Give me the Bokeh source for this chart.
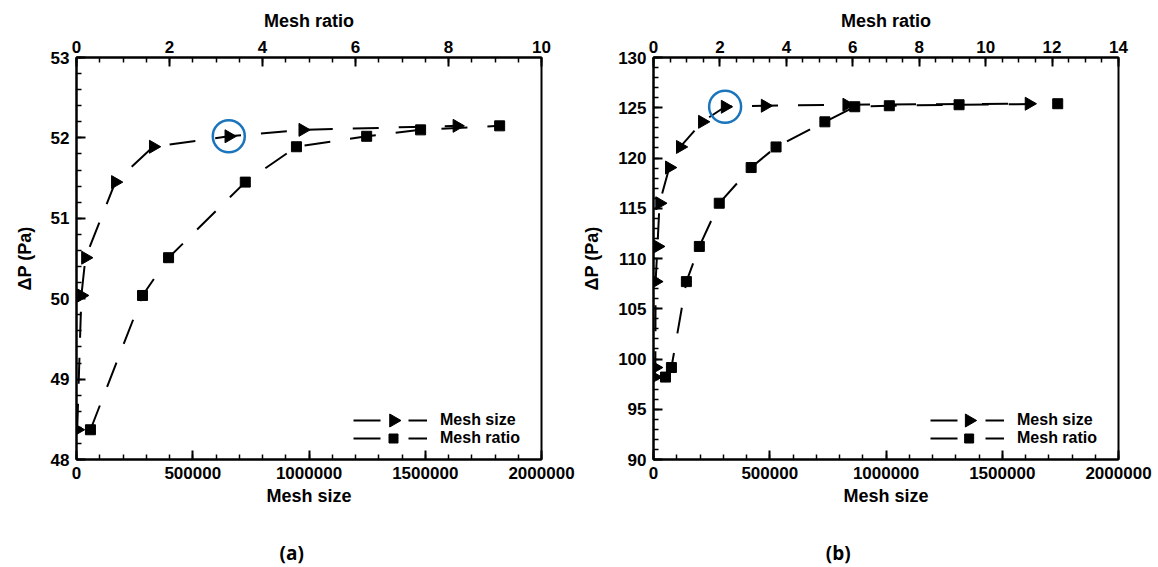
import math
from bokeh.plotting import figure
from bokeh.layouts import row, column
from bokeh.models import (Range1d, LinearAxis, Legend, LegendItem,
                          FixedTicker, SingleIntervalTicker, BasicTickFormatter)
from bokeh.core.properties import value
from bokeh.embed import file_html
from bokeh.resources import INLINE

# ---- panel (a) ----
size_a = [3000, 21000, 38500, 167000, 330000, 655000, 973000, 1636000]
ratio_a = [0.30, 1.42, 1.98, 3.63, 4.73, 6.24, 7.40, 9.10]
dp_a = [48.37, 50.04, 50.51, 51.45, 51.89, 52.02, 52.10, 52.15]
pick_a = 5  # selected mesh

# ---- panel (b) ----
size_b = [4000, 8000, 9000, 17000, 26000, 68000, 115000, 210000, 308000, 480000, 831000, 1615000]
ratio_b = [0.36, 0.54, 0.99, 1.38, 1.98, 2.94, 3.69, 5.16, 6.06, 7.10, 9.20, 12.17]
dp_b = [98.2, 99.15, 107.7, 111.2, 115.5, 119.05, 121.1, 123.6, 125.1, 125.2, 125.3, 125.4]
pick_b = 8

size_ticks = [0, 500000, 1000000, 1500000, 2000000]
size_minor = [i * 100000 for i in range(21)]

FONT = "Liberation Sans"
DASH = "26 20"
LEGEND_DASH = "27 28"
FIG_W, FIG_H = 579, 530
TAG_H = 37
BORDER_TOP, BORDER_BOTTOM = 57, 71


def style_axis(ax, tick_size="17px"):
    ax.axis_line_color = "black"
    ax.axis_line_width = 2
    ax.major_tick_line_color = "black"
    ax.major_tick_line_width = 2
    ax.minor_tick_line_color = "black"
    ax.minor_tick_line_width = 1.5
    ax.major_tick_in = 9
    ax.major_tick_out = 0
    ax.minor_tick_in = 5
    ax.minor_tick_out = 0
    ax.major_label_text_font = FONT
    ax.major_label_text_font_style = "bold"
    ax.major_label_text_font_size = tick_size
    ax.major_label_text_color = "black"
    ax.axis_label_text_font = FONT
    ax.axis_label_text_font_style = "bold"
    ax.axis_label_text_font_size = "18px"
    ax.axis_label_text_color = "black"


def panel(sizes, ratios, dps, pick, y_lo, y_hi, y_step, ratio_hi,
          border_left, border_right):
    p = figure(width=FIG_W, height=FIG_H, x_range=Range1d(0, 2000000),
               y_range=Range1d(y_lo, y_hi), output_backend="svg",
               toolbar_location=None, min_border_left=border_left,
               min_border_right=border_right, min_border_top=BORDER_TOP,
               min_border_bottom=BORDER_BOTTOM)
    p.grid.visible = False
    p.outline_line_color = "black"
    p.outline_line_width = 2
    p.background_fill_color = "white"
    p.border_fill_color = "white"

    p.extra_x_ranges = {"ratio": Range1d(0, ratio_hi)}

    xa = p.xaxis[0]
    xa.ticker = FixedTicker(ticks=size_ticks, minor_ticks=size_minor)
    xa.formatter = BasicTickFormatter(use_scientific=False)
    xa.axis_label = "Mesh size"
    xa.major_label_standoff = 7
    xa.axis_label_standoff = 4
    style_axis(xa)

    ya = p.yaxis[0]
    ya.ticker = SingleIntervalTicker(interval=y_step, num_minor_ticks=5)
    ya.axis_label = "ΔP (Pa)"
    ya.major_label_standoff = 7
    ya.axis_label_standoff = 13
    style_axis(ya)

    top = LinearAxis(x_range_name="ratio", axis_label="Mesh ratio",
                     ticker=SingleIntervalTicker(interval=2, num_minor_ticks=4))
    top.major_label_standoff = 5
    top.axis_label_standoff = 7
    style_axis(top)
    p.add_layout(top, "above")

    p.line(sizes, dps, line_color="black", line_width=2, line_dash=DASH)
    p.scatter(sizes, dps, marker="triangle", angle=-math.pi / 2,
              size=13, color="black")
    p.line(ratios, dps, line_color="black", line_width=2,
           line_dash=DASH, x_range_name="ratio")
    p.scatter(ratios, dps, marker="square", size=10, color="black",
              x_range_name="ratio")

    p.scatter([sizes[pick]], [dps[pick]], marker="circle", size=32,
              fill_alpha=0, line_color="#1b75bc", line_width=2.5)

    # legend keys: line renderers parked outside the visible ranges, so only
    # their legend sample is seen; markers are drawn on top of the samples
    off_x = [-2000000, -1000000]
    off_y = [y_lo - 10, y_lo - 10]
    key_size = p.line(off_x, off_y, line_color="black", line_width=2,
                      line_dash=LEGEND_DASH)
    key_ratio = p.line(off_x, off_y, line_color="black", line_width=2,
                       line_dash=LEGEND_DASH)
    frame_w = FIG_W - border_left - border_right
    frame_h = FIG_H - BORDER_TOP - BORDER_BOTTOM
    leg_left, leg_bottom, row_h, glyph_w = 277, 12, 18, 74
    legend = Legend(items=[LegendItem(label="Mesh size", renderers=[key_size]),
                           LegendItem(label="Mesh ratio", renderers=[key_ratio])],
                    location=(leg_left, leg_bottom), padding=0, margin=0, spacing=0,
                    glyph_width=glyph_w, glyph_height=row_h, label_height=row_h,
                    label_standoff=13, border_line_color=None,
                    background_fill_alpha=0, label_text_font=FONT,
                    label_text_font_style="bold", label_text_font_size="16px",
                    label_text_color="black")
    p.add_layout(legend, "center")

    mx = 2000000 * (leg_left + 40) / frame_w
    my1 = y_lo + (y_hi - y_lo) * (leg_bottom + 1.5 * row_h) / frame_h
    my2 = y_lo + (y_hi - y_lo) * (leg_bottom + 0.5 * row_h) / frame_h
    p.scatter([mx], [my1], marker="triangle", angle=-math.pi / 2, size=13,
              color="black")
    p.scatter([mx], [my2], marker="square", size=9, color="black")
    return p


def caption(tag, x_frac):
    c = figure(width=FIG_W, height=TAG_H, x_range=Range1d(0, 1),
               y_range=Range1d(0, 1), output_backend="svg",
               toolbar_location=None, min_border=0)
    c.axis.visible = False
    c.grid.visible = False
    c.outline_line_color = None
    c.text(x=[x_frac], y=[0.4], text=[tag], text_align="center",
           text_baseline="middle", text_font=value("Open Sans"),
           text_font_style="bold", text_font_size="19px", text_color="black")
    return c


pa = panel(size_a, ratio_a, dp_a, pick_a, 48, 53, 1, 10, 76, 38)
pb = panel(size_b, ratio_b, dp_b, pick_b, 90, 130, 5, 14, 72, 40)
ca = caption("(a)", 0.503)
cb = caption("(b)", 0.447)

layout = column(row(pa, pb), row(ca, cb))
open("out.html", "w").write(file_html(layout, INLINE))
